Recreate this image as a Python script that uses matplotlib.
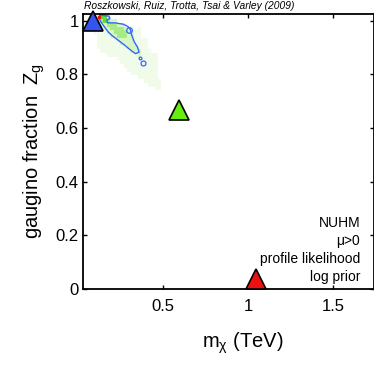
import numpy as np
import matplotlib
matplotlib.use("Agg")
import matplotlib.pyplot as plt
from matplotlib.colors import ListedColormap, BoundaryNorm

plt.rcParams['font.family'] = ['Liberation Sans', 'DejaVu Sans']

# ---- data ----
# best-fit / reference points (m_chi [TeV], Z_g)
tri_x = [0.09, 0.596, 1.043]
tri_y = [1.0, 0.667, 0.037]
tri_colors = ['#3355ee', '#66ee11', '#ee1111']

# profile-likelihood shading grid (levels: 0 faint ... 3 strong, '.' none)
grid_x0, grid_dx = 0.09, 0.02
grid_y_top, grid_dy = 1.02, 0.014
shade_rows = [
    ".1331................",
    ".023211..............",
    "0011222110...........",
    "000112222110.0.......",
    "00001122221100.......",
    ".0000112221100.......",
    ".000000111110000.....",
    ".000000011110000.....",
    ".000000000111000.....",
    "..000000000111000....",
    "....000000000100000..",
    ".......000000000000..",
    "........00000000000..",
    ".........0000000000..",
    "..........000000000..",
    "...........00000000..",
    ".............000000..",
    "...............00000.",
    "................0000.",
    "..................00.",
]
shade_colors = ['#f1fbea', '#d6f6c2', '#a6eb84', '#62df28']

# 68% contour outline (blue)
cont_x = [0.129, 0.182, 0.188, 0.169, 0.175, 0.218, 0.266, 0.292, 0.306, 0.316,
          0.331, 0.351, 0.359, 0.339, 0.316, 0.276, 0.237, 0.198, 0.178, 0.163,
          0.149, 0.135, 0.124, 0.129]
cont_y = [1.021, 1.017, 1.009, 1.002, 0.992, 0.992, 0.987, 0.979, 0.971, 0.946,
          0.921, 0.900, 0.883, 0.877, 0.887, 0.908, 0.927, 0.946, 0.958, 0.971,
          0.983, 0.996, 1.008, 1.021]
# small isolated contour islands (centre x, centre y, marker size)
island_x = [0.300, 0.365, 0.384]
island_y = [0.966, 0.861, 0.844]
island_s = [4.0, 2.0, 3.5]

xticks = [0.5, 1.0, 1.5]
xtick_labels = ['0.5', '1', '1.5']
yticks = [0, 0.2, 0.4, 0.6, 0.8, 1.0]
ytick_labels = ['0', '0.2', '0.4', '0.6', '0.8', '1']
annot = ['NUHM', 'μ>0', 'profile likelihood', 'log prior']

# ---- figure ----
fig = plt.figure(figsize=(3.74, 3.74), dpi=100)
ax = fig.add_axes([83 / 374, 1 - 289 / 374, 290.5 / 374, 275 / 374])
ax.set_xlim(0.03, 1.735)
ax.set_ylim(0.0, 1.025)

# shading grid
nrows = len(shade_rows)
ncols = max(len(r) for r in shade_rows)
Z = np.full((nrows, ncols), np.nan)
for j, row in enumerate(shade_rows):
    for i, ch in enumerate(row):
        if ch.isdigit():
            Z[j, i] = int(ch)
xe = grid_x0 + grid_dx * np.arange(ncols + 1)
ye = grid_y_top - grid_dy * np.arange(nrows + 1)
cmap = ListedColormap(shade_colors)
norm = BoundaryNorm([-0.5, 0.5, 1.5, 2.5, 3.5], cmap.N)
ax.pcolormesh(xe, ye, np.ma.masked_invalid(Z), cmap=cmap, norm=norm,
              shading='flat', zorder=1)

ax.plot(cont_x, cont_y, color='#3366ff', lw=1.0, zorder=2)
for x, y, s in zip(island_x, island_y, island_s):
    ax.plot(x, y, 'o', ms=s, mfc='none', mec='#3366ff', mew=0.9, zorder=2)

# tiny red region next to the best fit
ax.plot([0.125], [1.012], 's', ms=2, color='#ee1111', zorder=3)

for x, y, c in zip(tri_x, tri_y, tri_colors):
    ax.plot(x, y, '^', ms=15, mfc=c, mec='black', mew=1.2, clip_on=False,
            zorder=5)

ax.set_xticks(xticks)
ax.set_xticklabels(xtick_labels)
ax.set_yticks(yticks)
ax.set_yticklabels(ytick_labels)
ax.tick_params(direction='in', top=True, right=True, labelsize=12,
               length=3, width=1)
ax.tick_params(axis='x', pad=7)
ax.tick_params(axis='y', pad=3)
for s in ax.spines.values():
    s.set_linewidth(1.3)

ax.set_ylabel(r'gaugino fraction  $\mathregular{Z_g}$', fontsize=14.5)
ax.yaxis.set_label_coords(-0.125, 0.5)
ax.set_xlabel(r'$\mathregular{m_\chi}$ (TeV)', fontsize=14.5)
ax.xaxis.set_label_coords(0.55, -0.15)

for k, t in enumerate(annot):
    fig.text(360 / 374, 1 - (223 + 18 * k) / 374, t, ha='right', va='center',
             fontsize=10)

fig.text(84 / 374, 1 - 6 / 374,
         'Roszkowski, Ruiz, Trotta, Tsai & Varley (2009)',
         ha='left', va='center', fontsize=7.4, style='italic')

fig.savefig('out.png', dpi=100)
